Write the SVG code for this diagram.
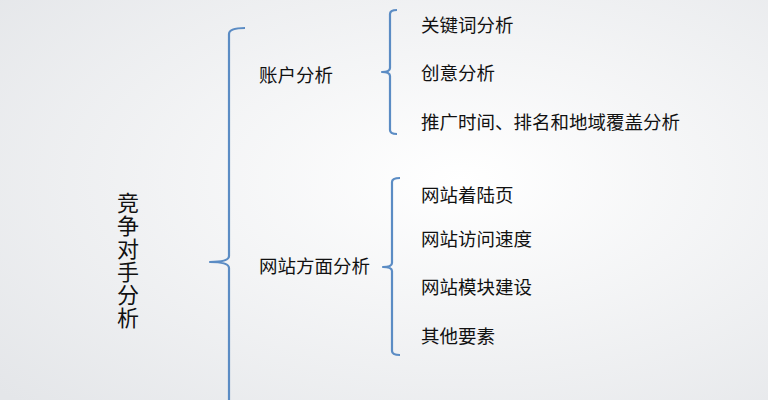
<svg xmlns="http://www.w3.org/2000/svg" width="768" height="400" viewBox="0 0 768 400">
<defs>
<radialGradient id="bg" cx="0.6" cy="0.45" r="0.8">
<stop offset="0" stop-color="#ffffff"/><stop offset="1" stop-color="#e4e6e9"/>
</radialGradient>
<style>
text{font-family:"Noto Sans CJK SC",sans-serif;fill:#111}
.t{font-size:18.5px}
.v{font-size:22px;writing-mode:vertical-rl;letter-spacing:1px}
.b{fill:none;stroke:#5b8cc4;stroke-width:2.2;stroke-linejoin:round}
</style>
</defs>
<rect width="768" height="400" fill="url(#bg)"/>
<g id="connectors">
<path class="b" d="M245 28 Q229 28 229 34 L229 256 Q229 262 210 262 Q229 262 229 268 L229 400"/>
<path class="b" d="M397 10 Q390 10 390 14 L390 68 Q390 72 382 72 Q390 72 390 76 L390 130 Q390 134 397 134"/>
<path class="b" d="M400 178 Q392 178 392 182 L392 263 Q392 267 383 267 Q392 267 392 271 L392 351 Q392 355 400 355"/>
</g>
<g id="root"><text class="v" x="128" y="192">竞争对手分析</text></g>
<g id="n1"><text class="t" x="259" y="82">账户分析</text></g>
<g id="n2"><text class="t" x="259" y="273">网站方面分析</text></g>
<g id="l1"><text class="t" x="421" y="32">关键词分析</text></g>
<g id="l2"><text class="t" x="421" y="80">创意分析</text></g>
<g id="l3"><text class="t" x="421" y="129">推广时间、排名和地域覆盖分析</text></g>
<g id="l4"><text class="t" x="421" y="202">网站着陆页</text></g>
<g id="l5"><text class="t" x="421" y="246">网站访问速度</text></g>
<g id="l6"><text class="t" x="421" y="294">网站模块建设</text></g>
<g id="l7"><text class="t" x="421" y="343">其他要素</text></g>
</svg>
